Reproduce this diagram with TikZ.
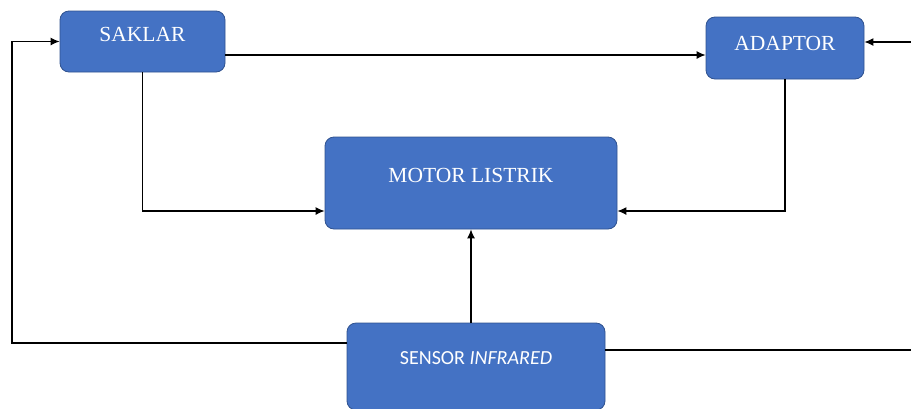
\documentclass[tikz,border=0pt]{standalone}
\usepackage{fontspec}
\setmainfont{Liberation Serif}
\newfontfamily\sensorfont{Carlito}
\usetikzlibrary{arrows.meta,positioning}
\definecolor{kotak}{HTML}{4472C4}
\definecolor{tepi}{HTML}{2F528F}
\tikzset{%
	>={Latex[length=9pt,width=8pt]},
	blok/.style={rectangle, rounded corners=9pt, fill=kotak, draw=tepi, line width=0.8pt, text=white, font=\fontsize{21.5}{24}\selectfont, text height=14pt},
	panah/.style={->, line width=1.2pt}
}
\begin{document}
\begin{tikzpicture}[x=1pt,y=-1pt]
\useasboundingbox (0,0) rectangle (911,408);
\clip (0,0) rectangle (911,408);
\node (saklar) [blok, minimum width=165pt, minimum height=61pt, text depth=15pt] at (142.5,41.5) {SAKLAR};
\node (adaptor) [blok, minimum width=158pt, minimum height=62pt, text depth=10pt] at (785,48) {ADAPTOR};
\node (motor) [blok, minimum width=292pt, minimum height=92pt, text depth=16pt] at (471,183) {MOTOR LISTRIK};
\node (sensor) [blok, minimum width=258pt, minimum height=87pt, text depth=19pt, font=\sensorfont\fontsize{20}{23}\selectfont] at (476,366.5) {SENSOR \textit{INFRARED}};
\coordinate (kiri) at (12,43);
\coordinate (kanan1) at (911,42);
\coordinate (kanan2) at (911,350);

\draw[panah] ([yshift=-13.5pt]saklar.east) -- ([yshift=-13.5pt]saklar.east -| adaptor.west);
\draw[panah] (kanan1) -- (kanan1 -| adaptor.east);
\draw[panah] (saklar.south) |- ([yshift=-28pt]motor.west);
\draw[panah] (adaptor.south) |- ([yshift=-28pt]motor.east);
\draw[panah] (sensor.north -| motor.south) -- (motor.south);
\draw[panah] ([yshift=23.5pt]sensor.west) -| (kiri) |- (saklar.west);
\draw[line width=1.2pt] ([yshift=16.5pt]sensor.east) -- (kanan2);

\end{tikzpicture}
\end{document}
